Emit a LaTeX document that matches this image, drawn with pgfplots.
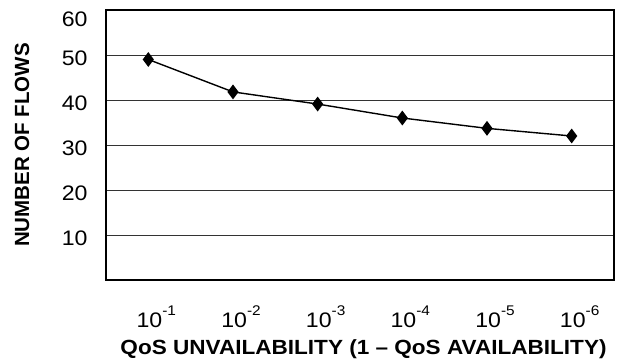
\documentclass[border=0pt]{standalone}
\usepackage{pgfplots}
\pgfplotsset{compat=1.18}
\usepackage{fontspec}
\setmainfont{Liberation Sans}[FakeStretch=1.1]
\newfontfamily\yfont{Liberation Sans}
\newcommand{\tkfont}{\fontsize{21}{24}\selectfont}
\newcommand{\sx}[1]{10\raisebox{12pt}{\fontsize{14}{14}\selectfont #1}}
\begin{document}
\begin{tikzpicture}
\begin{axis}[
  scale only axis,
  width=508pt, height=270pt,
  xmin=0.5, xmax=6.5,
  ymin=0, ymax=60,
  xtick={1,2,3,4,5,6},
  xticklabels={\sx{-1},\sx{-2},\sx{-3},\sx{-4},\sx{-5},\sx{-6}},
  ytick={10,20,30,40,50},
  extra y ticks={60},
  extra y tick style={yticklabel style={yshift=-6pt}, grid=none},
  major tick length=0pt,
  axis line style={line width=1.6pt, black},
  ymajorgrids,
  grid style={line width=0.9pt, black!80},
  yticklabel style={font=\tkfont, xshift=-15pt, yshift=-3.5pt},
  xticklabel style={font=\tkfont, anchor=base, yshift=-47pt, xshift=8pt},
  /pgf/number format/assume math mode=true,
  xlabel={\bfseries QoS UNVAILABILITY (1 -- QoS AVAILABILITY)},
  ylabel={\yfont\bfseries NUMBER OF FLOWS},
  every axis x label/.style={at={(axis description cs:0.5,0)}, anchor=base, yshift=-74pt, xshift=3.5pt, font=\fontsize{20.5}{24}\selectfont},
  every axis y label/.style={at={(axis description cs:0,0.5)}, rotate=90, anchor=center, yshift=84pt, font=\fontsize{20.5}{24}\selectfont},
]
\addplot[black, line width=1.4pt, mark=diamond*, mark size=6.3pt, mark options={fill=black, solid}] coordinates {
 (1,49) (2,41.8) (3,39.1) (4,36) (5,33.7) (6,32)
};
\path (rel axis cs:0,0) coordinate (ll) (rel axis cs:1,1) coordinate (ur);
\end{axis}
\useasboundingbox ([shift={(-106pt,-82pt)}]ll) rectangle ([shift={(14pt,10pt)}]ur);
\end{tikzpicture}
\end{document}
